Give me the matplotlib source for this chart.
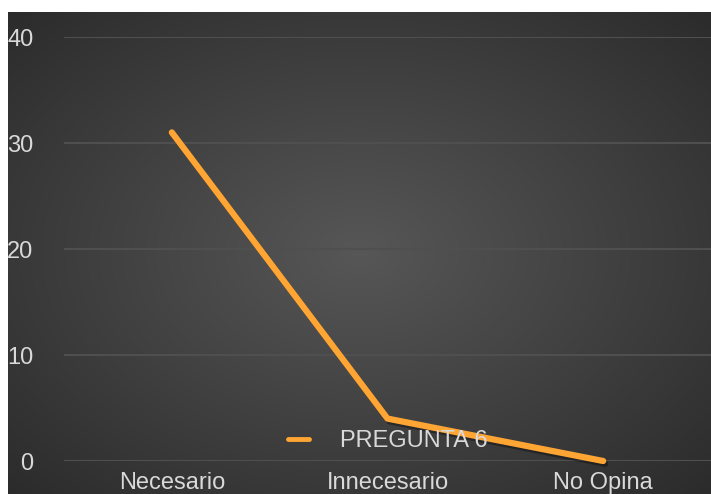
import numpy as np
import matplotlib
matplotlib.use("Agg")
import matplotlib.pyplot as plt
import matplotlib.patheffects as pe

categories = ["Necesario", "Innecesario", "No Opina"]
values = [31, 4, 0]
series_name = "PREGUNTA 6"
y_ticks = [0, 10, 20, 30, 40]

plt.rcParams['font.family'] = ['Liberation Sans', 'DejaVu Sans']

W, H = 711, 494
fig = plt.figure(figsize=(W / 100, H / 100), dpi=100, facecolor="white")

# dark background with a radial gradient
bg = fig.add_axes([8 / W, 0, 1 - 8 / W, 1 - 12 / H])
yy, xx = np.mgrid[0:1:300j, 0:1:400j]
r = np.sqrt((xx - 0.5) ** 2 + (yy - 0.5) ** 2) / 0.7071
shade = 0.34 - 0.17 * r
img = np.dstack([shade, shade, shade])
bg.imshow(img, aspect="auto", extent=[0, 1, 0, 1], interpolation="bilinear")
bg.set_axis_off()

ax = fig.add_axes([64 / W, (H - 461) / H, (711 - 64) / W, (461 - 37) / H])
ax.patch.set_alpha(0)
x = np.arange(len(categories))
ax.plot(x, values, color="#FFA534", lw=4.5, solid_capstyle="round",
        solid_joinstyle="round", label=series_name, clip_on=False,
        path_effects=[pe.SimpleLineShadow(offset=(1.5, -2), shadow_color="black", alpha=0.35),
                      pe.Normal()])
ax.set_xlim(-0.5, 2.5)
ax.set_ylim(0, 40)
ax.set_yticks(y_ticks)
ax.set_xticks(x)
ax.set_xticklabels(categories)
ax.grid(axis="y", color="#4f4f4f", lw=1.5)
ax.set_axisbelow(True)
for s in ax.spines.values():
    s.set_visible(False)
ax.tick_params(length=0, colors="#d9d9d9", labelsize=17)
ax.tick_params(axis="y", pad=22)
ax.tick_params(axis="x", pad=8)

leg = ax.legend(loc="center", bbox_to_anchor=(0.5, 20 / 424),
                frameon=False, fontsize=17, handlelength=0.9, handletextpad=1.3)
for t in leg.get_texts():
    t.set_color("#d9d9d9")
for h in leg.get_lines():
    h.set_linewidth(3.5)
    h.set_path_effects([])

fig.savefig("out.png", dpi=100, facecolor="white")
